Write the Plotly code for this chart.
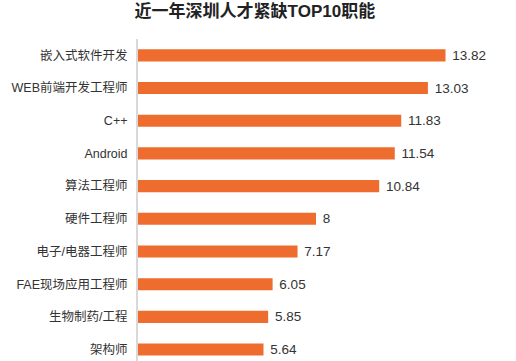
import plotly.graph_objects as go

categories = ["嵌入式软件开发", "WEB前端开发工程师", "C++", "Android", "算法工程师",
              "硬件工程师", "电子/电器工程师", "FAE现场应用工程师", "生物制药/工程", "架构师"]
values = [13.82, 13.03, 11.83, 11.54, 10.84, 8, 7.17, 6.05, 5.85, 5.64]
value_labels = ["13.82", "13.03", "11.83", "11.54", "10.84", "8", "7.17", "6.05", "5.85", "5.64"]
title = "近一年深圳人才紧缺TOP10职能"

FONT = "Liberation Sans, Arial, Noto Sans CJK SC, sans-serif"

fig = go.Figure(go.Bar(
    x=values, y=categories, orientation="h",
    marker=dict(color="#ED6C2E", line=dict(width=0)),
    width=0.37,
    text=["\u00a0" + t for t in value_labels],
    textposition="outside",
    constraintext="none",
    textfont=dict(family=FONT, size=13.5, color="#333333"),
    cliponaxis=False,
    hoverinfo="skip",
))

fig.update_layout(
    width=516, height=361,
    margin=dict(l=138, r=22, t=39, b=0, pad=0),
    paper_bgcolor="white", plot_bgcolor="white",
    showlegend=False,
    title=dict(text="<b>" + title + "</b>", x=0.494, xanchor="center", y=0.97, yanchor="middle",
               font=dict(family=FONT, size=17, color="#222222")),
    xaxis=dict(range=[0, 16], showgrid=False, zeroline=False, showticklabels=False,
               showline=False, fixedrange=True, automargin=False),
    yaxis=dict(type="category", range=[9.35, -0.5], showgrid=False, zeroline=False,
               automargin=False, fixedrange=True,
               showline=True, linecolor="#D9D9D9", linewidth=2,
               ticks="outside", ticklen=6, tickcolor="rgba(0,0,0,0)",
               tickfont=dict(family=FONT, size=12.5, color="#333333")),
)

fig.write_html("out.html", config={"displayModeBar": False},
               post_script="document.body.style.margin='0';document.body.style.padding='0';")
